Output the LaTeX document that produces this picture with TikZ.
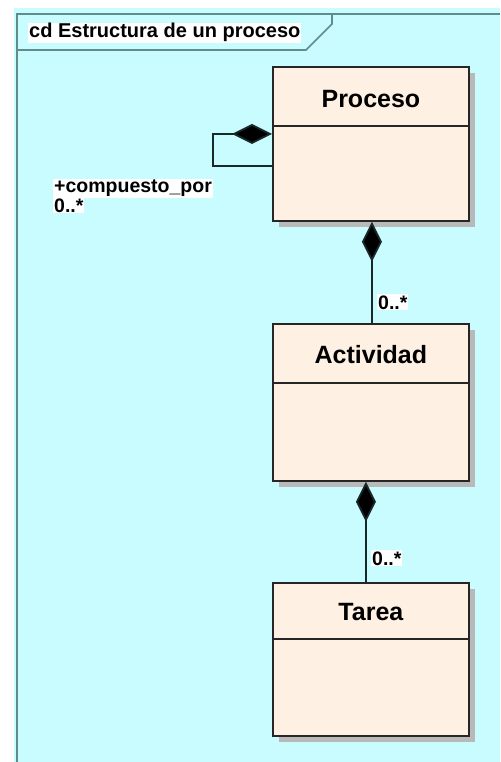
\documentclass[tikz,border=0pt]{standalone}
\usepackage{fontspec}
\setmainfont{Liberation Sans}
\usetikzlibrary{arrows.meta,shadows}
\definecolor{diagbg}{RGB}{200,252,255}
\definecolor{framecol}{RGB}{96,140,140}
\definecolor{classfill}{RGB}{254,240,226}
\definecolor{shadowcol}{RGB}{185,185,185}
\definecolor{linecol}{RGB}{25,40,40}

\begin{document}
\begin{tikzpicture}[x=1pt,y=-1pt,
  classbox/.style={draw=black!85, line width=1.8pt, fill=classfill,
    minimum width=196pt, anchor=north west, inner sep=0pt,
    drop shadow={shadow xshift=6pt, shadow yshift=-6pt, fill=shadowcol, opacity=1}},
  divider/.style={draw=black!85, line width=1.8pt},
  classname/.style={font=\fontsize{25}{30}\selectfont\bfseries},
  lbl/.style={font=\fontsize{19.5}{22}\selectfont\bfseries, fill=white,
    inner sep=1pt, anchor=base west},
  assoc/.style={draw=linecol, line width=1.8pt},
  comp/.style={assoc, {Diamond[length=40pt,width=20pt,fill=black]}-}
]
\useasboundingbox (0,0) rectangle (500,762);

% diagram frame
\fill[white] (0,0) rectangle (500,762);
\fill[diagbg] (14,8) rectangle (500,762);
\draw[framecol, line width=2pt] (17,762) -- (17,14) -- (500,14);
\draw[framecol, line width=1.6pt] (17,50) -- (306,50) -- (332,24) -- (332,14);
\node[lbl, font=\fontsize{20}{24}\selectfont\bfseries] (title) at (28,38) {cd Estructura de un proceso};

% classes
\node[classbox, minimum height=154pt] (proceso) at (272,66) {};
\node[classbox, minimum height=157pt] (actividad) at (272,323) {};
\node[classbox, minimum height=153pt] (tarea) at (272,582) {};

\draw[divider] ([yshift=-60pt]proceso.north west) -- ([yshift=-60pt]proceso.north east);
\draw[divider] ([yshift=-60pt]actividad.north west) -- ([yshift=-60pt]actividad.north east);
\draw[divider] ([yshift=-57pt]tarea.north west) -- ([yshift=-57pt]tarea.north east);

\node[classname] (proceson) at ([yshift=-33pt]proceso.north) {Proceso};
\node[classname] (actividadn) at ([yshift=-32pt]actividad.north) {Actividad};
\node[classname] (tarean) at ([yshift=-30pt]tarea.north) {Tarea};

% compositions
\draw[comp] ([xshift=1pt]proceso.south) -- ([xshift=1pt]actividad.north);
\draw[comp] ([xshift=-5pt]actividad.south) -- ([xshift=-5pt]tarea.north);

\coordinate (loopa) at ([yshift=10pt]proceso.west);
\coordinate (loopb) at ([yshift=-22pt]proceso.west);
\draw[comp] (loopa) -- ++(-59,0) |- (loopb);

% multiplicities and role
\node[lbl] (mult1) at (377,309) {0..*};
\node[lbl] (mult2) at (371,565) {0..*};
\node[lbl] (role) at (53,193) {+compuesto\_por};
\node[lbl] (mult0) at (53,212) {0..*};
\end{tikzpicture}
\end{document}
